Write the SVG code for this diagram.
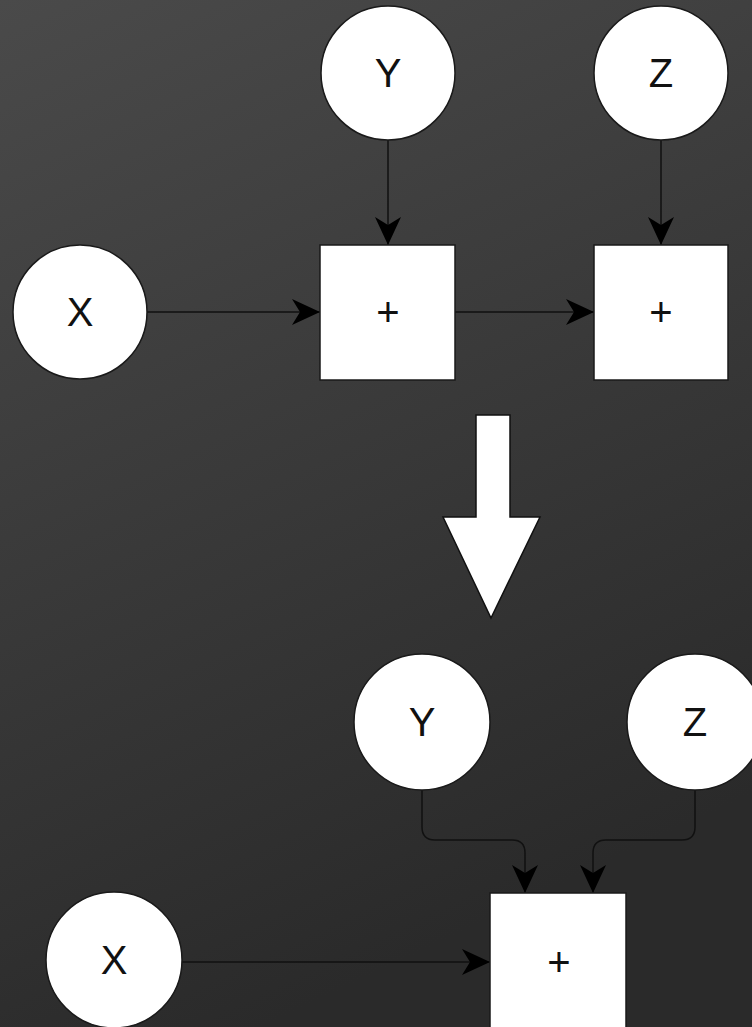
<svg xmlns="http://www.w3.org/2000/svg" width="752" height="1027" viewBox="0 0 752 1027">
<defs>
<linearGradient id="bg" x1="0" y1="0" x2="0.35" y2="1">
<stop offset="0" stop-color="#4a4a4a"/>
<stop offset="0.5" stop-color="#3a3a3a"/>
<stop offset="1" stop-color="#2a2a2a"/>
</linearGradient>
<marker id="arr" markerUnits="userSpaceOnUse" viewBox="0 0 28 26" refX="28" refY="13" markerWidth="28" markerHeight="26" orient="auto">
<path d="M0,0 L28,13 L0,26 L8,13 Z" fill="#000"/>
</marker>
<style>
.node{fill:#fff;stroke:#1a1a1a;stroke-width:1.5}
.lbl{font-family:"Liberation Sans",Arial,sans-serif;font-size:40px;fill:#111;text-anchor:middle;dominant-baseline:central}
.edge{fill:none;stroke:#111;stroke-width:1.5}
</style>
</defs>
<rect x="0" y="0" width="752" height="1027" fill="url(#bg)"/>

<g id="connectors">
<path class="edge" d="M388,140 L388,245" marker-end="url(#arr)"/>
<path class="edge" d="M661,140 L661,245" marker-end="url(#arr)"/>
<path class="edge" d="M147,312 L320,312" marker-end="url(#arr)"/>
<path class="edge" d="M455,312 L594,312" marker-end="url(#arr)"/>
<path class="edge" d="M422,790 L422,827 Q422,840 435,840 L512,840 Q525,840 525,853 L525,893" marker-end="url(#arr)"/>
<path class="edge" d="M695,790 L695,827 Q695,840 682,840 L606,840 Q593,840 593,853 L593,893" marker-end="url(#arr)"/>
<path class="edge" d="M182,962 L490,962" marker-end="url(#arr)"/>
</g>

<g id="top-y"><circle class="node" cx="388" cy="73" r="67"/><text class="lbl" x="388" y="73">Y</text></g>
<g id="top-z"><circle class="node" cx="661" cy="73" r="67"/><text class="lbl" x="661" y="73">Z</text></g>
<g id="top-x"><circle class="node" cx="80" cy="312" r="67"/><text class="lbl" x="80" y="312">X</text></g>
<g id="top-add1"><rect class="node" x="320" y="245" width="135" height="135"/><text class="lbl" x="388" y="312">+</text></g>
<g id="top-add2"><rect class="node" x="594" y="245" width="134" height="135"/><text class="lbl" x="661" y="312">+</text></g>

<g id="big-arrow"><polygon points="476,415 510,415 510,517 540,517 491,618 443,517 476,517" fill="#fff" stroke="#111" stroke-width="1.5"/></g>

<g id="bot-y"><circle class="node" cx="422" cy="722" r="68"/><text class="lbl" x="422" y="722">Y</text></g>
<g id="bot-z"><circle class="node" cx="695" cy="722" r="68"/><text class="lbl" x="695" y="722">Z</text></g>
<g id="bot-x"><circle class="node" cx="114" cy="960" r="68"/><text class="lbl" x="114" y="960">X</text></g>
<g id="bot-add"><rect class="node" x="490" y="893" width="136" height="160"/><text class="lbl" x="559" y="962">+</text></g>
</svg>
